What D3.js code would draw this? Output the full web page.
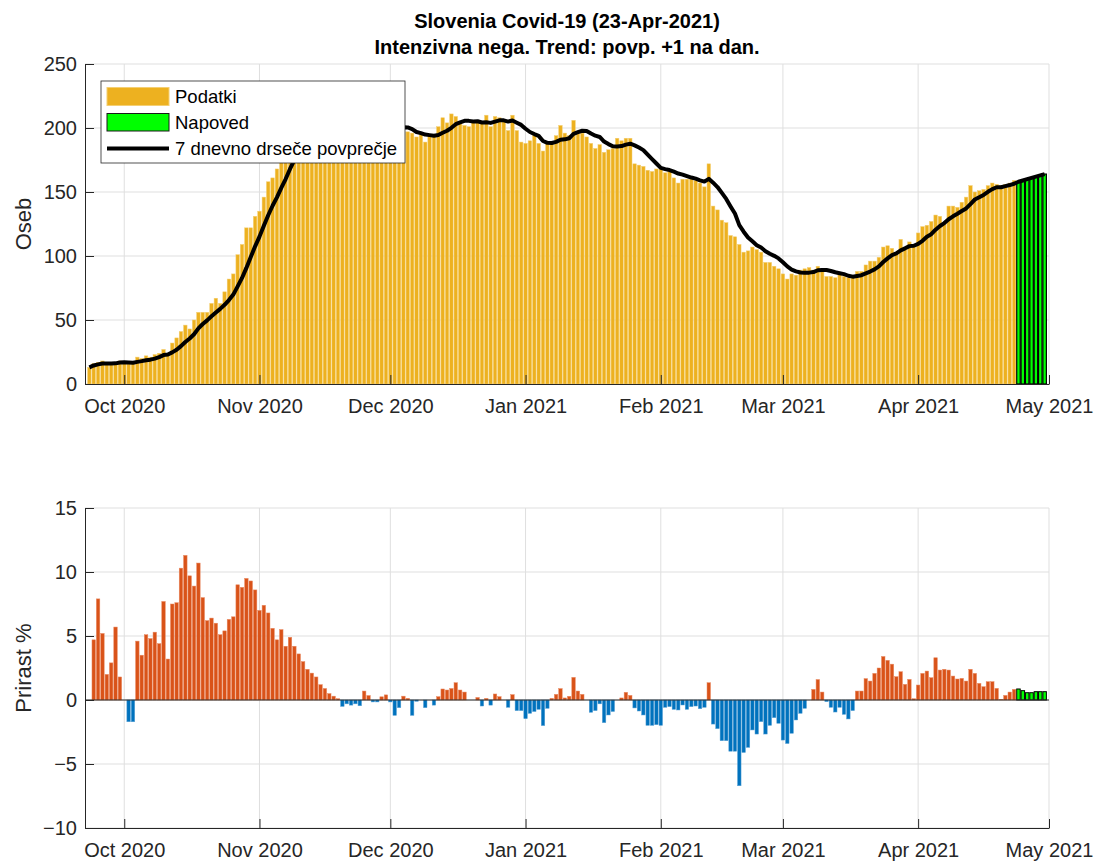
<!DOCTYPE html>
<html>
<head>
<meta charset="utf-8">
<script src="https://cdn.jsdelivr.net/npm/d3@7"></script>
<style>
  body { margin: 0; background: #fff; }
  svg { display: block; font-family: "Liberation Sans", Arial, Helvetica, sans-serif; }
</style>
</head>
<body>
<svg id="chart" width="1096" height="861"></svg>
<script>
// ICU patients per day, 23 Sep 2020 .. 23 Apr 2021
const firstDay = new Date(2020, 8, 23);
const icuPatients = [
  13, 16, 17, 18, 16, 16, 17, 18,                                                       // Sep
  17, 16, 16, 21, 20, 22, 21, 23, 24, 27, 24, 32, 36, 41, 46, 43, 50, 56, 56, 56,
  63, 67, 63, 72, 82, 86, 101, 109, 122, 122, 131,                                      // Oct
  135, 146, 158, 161, 168, 174, 179, 190, 195, 202, 199, 199, 202, 204, 207, 207,
  209, 204, 200, 195, 200, 201, 203, 203, 214, 205, 193, 198, 205, 209,                 // Nov
  201, 197, 197, 197, 197, 196, 193, 195, 189, 194, 194, 201, 208, 204, 211, 209,
  204, 202, 201, 205, 205, 204, 210, 201, 209, 208, 205, 198, 210, 198, 189,            // Dec
  188, 190, 194, 188, 182, 188, 188, 194, 202, 196, 194, 206, 197, 196, 193, 188,
  184, 187, 181, 183, 184, 192, 190, 192, 192, 172, 171, 170, 167, 166, 168,            // Jan
  168, 165, 166, 161, 157, 160, 160, 160, 159, 157, 154, 172, 139, 136, 128, 126,
  116, 115, 109, 103, 104, 107, 105, 103, 95, 95, 92, 90,                               // Feb
  86, 82, 86, 85, 89, 90, 91, 89, 92, 88, 84, 84, 83, 86, 84, 83,
  83, 88, 88, 93, 96, 96, 99, 107, 108, 106, 102, 113, 107, 111, 109,                   // Mar
  118, 123, 124, 127, 132, 131, 125, 139, 139, 138, 142, 146, 155, 150, 151, 152,
  155, 157, 156, 155, 156, 157, 159                                                     // Apr
];
// forecast, 24 Apr .. 30 Apr
const icuForecast = [158, 159, 160, 161, 162, 163, 164];

// daily growth of the 7-day average in %, 24 Sep 2020 .. 23 Apr 2021
const growthPct = [
  4.7, 7.9, 5.2, 2.0, 2.9, 5.7, 1.8,                                                    // Sep
  0, -1.7, -1.7, 4.6, 3.5, 5.1, 4.8, 5.3, 4.4, 7.7, 3.2, 7.5, 7.6, 10.3, 11.3, 9.7,
  8.9, 10.7, 8.0, 6.2, 6.4, 6.0, 5.1, 5.4, 6.3, 6.5, 9.0, 8.8, 9.5, 9.3, 8.6,           // Oct
  7.0, 7.4, 6.8, 5.6, 4.7, 5.5, 4.2, 4.9, 4.2, 3.6, 3.0, 2.4, 2.1, 1.8, 1.2, 0.9,
  0.5, 0.3, 0.1, -0.5, -0.3, -0.4, -0.3, -0.45, 0.7, 0.35, -0.15, -0.15, 0.25, 0.4,     // Nov
  -0.15, -1.2, -0.6, 0.3, 0.13, -1.2, -0.1, 0, -0.6, 0, -0.4, 0.26, 0.86, 0.78, 0.9,
  1.35, 0.78, 0.62, 0, 0, 0.2, -0.47, 0.13, -0.4, 0.47, 0.26, 0, -0.57, 0.42, -0.83,
  -0.83,                                                                                // Dec
  -1.46, -1.04, -0.9, -0.73, -2.0, -0.65, 0.13, 0.44, 0.89, 0.16, 0.29, 1.77, 0.7,
  0.44, 0, -0.96, -0.83, -0.3, -1.77, -1.17, -0.9, 0, 0.16, 0.6, 0.36, -0.62, -0.86,
  -1.17, -1.98, -1.98, -1.93,                                                           // Jan
  -1.98, -0.57, -0.52, -0.73, -0.78, -0.39, -0.73, -0.52, -0.47, -0.68, -0.57, 1.35,
  -1.88, -2.24, -3.18, -3.18, -4.0, -4.0, -6.7, -4.1, -3.7, -2.34, -2.66, -1.69, -2.66,
  -1.98, -1.38, -1.82,                                                                  // Feb
  -3.13, -3.4, -2.6, -1.56, -1.04, -0.65, 0, 0.83, 1.6, 0.62, -0.13, -0.57, -0.94,
  -0.57, -1.12, -1.48, -0.83, 0.7, 0.7, 1.67, 1.48, 2.08, 2.5, 3.4, 3.1, 2.8, 1.82,
  2.21, 1.22, 1.61, 0.1,                                                                // Mar
  1.17, 2.08, 2.26, 1.74, 3.3, 2.34, 2.4, 2.34, 1.87, 1.64, 1.69, 1.48, 2.4, 2.08,
  1.3, 1.04, 1.43, 1.43, 0.91, 0.05, 0.36, 0.62, 0.83                                  // Apr
];
const growthForecast = [0.86, 0.73, 0.57, 0.57, 0.65, 0.65, 0.65];

const topTicks = [0, 50, 100, 150, 200, 250];
const bottomTicks = [-10, -5, 0, 5, 10, 15];
const titleLines = ['Slovenia Covid-19 (23-Apr-2021)', 'Intenzivna nega. Trend: povp. +1 na dan.'];
const legendLabels = ['Podatki', 'Napoved', '7 dnevno drseče povprečje'];

const colors = {
  data: '#EDB120', dataEdge: '#F4CF73',
  forecast: '#00FF00',
  up: '#D95319', upEdge: '#E98A62',
  down: '#0072BD', downEdge: '#5AA2D6',
  axis: '#262626', grid: '#DFDFDF'
};

const svg = d3.select('#chart');

const dayOf = (i) => d3.timeDay.offset(firstDay, i);
const actual = icuPatients.map((v, i) => ({ date: dayOf(i), value: v }));
const forecast = icuForecast.map((v, i) => ({ date: dayOf(icuPatients.length + i), value: v }));
const growth = growthPct.map((v, i) => ({ date: dayOf(i + 1), value: v }));
const growthFc = growthForecast.map((v, i) => ({ date: dayOf(icuPatients.length + i), value: v }));

// trailing 7 day average, then the forecast trend
const movingAvg = actual.map((d, i) => ({
  date: d.date,
  value: d3.mean(icuPatients.slice(Math.max(0, i - 6), i + 1))
})).concat(forecast);

const x = d3.scaleTime()
  .domain([new Date(2020, 8, 22), new Date(2021, 4, 1)])
  .range([85, 1049]);
const step = x(dayOf(1)) - x(dayOf(0));
const barW = step * 0.8;
const months = d3.timeMonth.range(new Date(2020, 9, 1), new Date(2021, 4, 2));

function drawPanel(y, ticks, top, bottom, label, labelY) {
  const g = svg.append('g');

  // grid
  g.append('g').selectAll('line').data(ticks).join('line')
    .attr('x1', 85).attr('x2', 1049)
    .attr('y1', d => y(d)).attr('y2', d => y(d))
    .attr('stroke', colors.grid).attr('stroke-width', 1);
  g.append('g').selectAll('line').data(months).join('line')
    .attr('x1', d => x(d)).attr('x2', d => x(d))
    .attr('y1', top).attr('y2', bottom)
    .attr('stroke', colors.grid).attr('stroke-width', 1);

  const bars = g.append('g');

  const axes = () => {
    const yAxis = g.append('g')
      .attr('transform', 'translate(85,0)')
      .call(d3.axisLeft(y).tickValues(ticks).tickSize(-9).tickSizeOuter(0).tickPadding(8));
    const xAxis = g.append('g')
      .attr('transform', `translate(0,${bottom})`)
      .call(d3.axisBottom(x).tickValues(months).tickFormat(d3.timeFormat('%b %Y'))
        .tickSize(-9).tickSizeOuter(0).tickPadding(15));
    [yAxis, xAxis].forEach(a => {
      a.select('.domain').attr('stroke', colors.axis);
      a.selectAll('.tick line').attr('stroke', colors.axis);
      a.selectAll('.tick text').attr('fill', colors.axis)
        .style('font-size', '20px').style('font-family', '"Liberation Sans", Arial, sans-serif');
    });
    g.append('text')
      .attr('transform', `translate(31,${labelY}) rotate(-90)`)
      .attr('text-anchor', 'middle')
      .attr('fill', colors.axis)
      .style('font-size', '22px')
      .text(label);
  };

  return { g, bars, axes };
}

// ---------- top panel ----------
const yTop = d3.scaleLinear().domain([0, 250]).range([384, 64]);
const topPanel = drawPanel(yTop, topTicks, 64, 384, 'Oseb', 224);

topPanel.bars.selectAll('rect.data').data(actual).join('rect')
  .attr('class', 'data')
  .attr('x', d => x(d.date) - barW / 2)
  .attr('width', barW)
  .attr('y', d => yTop(d.value))
  .attr('height', d => yTop(0) - yTop(d.value))
  .attr('fill', colors.data)
  .attr('stroke', colors.dataEdge).attr('stroke-width', 0.5);

topPanel.bars.selectAll('rect.fc').data(forecast).join('rect')
  .attr('class', 'fc')
  .attr('x', d => x(d.date) - barW / 2)
  .attr('width', barW)
  .attr('y', d => yTop(d.value))
  .attr('height', d => yTop(0) - yTop(d.value))
  .attr('fill', colors.forecast)
  .attr('stroke', '#000').attr('stroke-width', 1.2);

topPanel.bars.append('path')
  .datum(movingAvg)
  .attr('fill', 'none')
  .attr('stroke', '#000')
  .attr('stroke-width', 4)
  .attr('stroke-linejoin', 'round')
  .attr('d', d3.line().x(d => x(d.date)).y(d => yTop(d.value)).curve(d3.curveLinear));

topPanel.axes();

// legend
const legend = svg.append('g');
legend.append('rect')
  .attr('x', 101).attr('y', 81).attr('width', 304).attr('height', 82)
  .attr('fill', '#fff').attr('stroke', colors.axis).attr('stroke-width', 0.8);
legend.append('rect')
  .attr('x', 107).attr('y', 87.5).attr('width', 62).attr('height', 18)
  .attr('fill', colors.data).attr('stroke', colors.dataEdge).attr('stroke-width', 1);
legend.append('rect')
  .attr('x', 107).attr('y', 113.5).attr('width', 62).attr('height', 17.5)
  .attr('fill', colors.forecast).attr('stroke', '#1a1a1a').attr('stroke-width', 1);
legend.append('line')
  .attr('x1', 107).attr('x2', 169).attr('y1', 148.5).attr('y2', 148.5)
  .attr('stroke', '#000').attr('stroke-width', 4);
legend.selectAll('text').data(legendLabels).join('text')
  .attr('x', 175)
  .attr('y', (d, i) => [97, 122.5, 148.5][i])
  .attr('dy', '0.35em')
  .attr('fill', '#000')
  .style('font-size', '18.5px')
  .text(d => d);

// ---------- bottom panel ----------
const yBot = d3.scaleLinear().domain([-10, 15]).range([828, 508]);
const botPanel = drawPanel(yBot, bottomTicks, 508, 828, 'Prirast %', 668);

botPanel.bars.selectAll('rect.gr').data(growth.filter(d => d.value !== 0)).join('rect')
  .attr('class', 'gr')
  .attr('x', d => x(d.date) - barW / 2)
  .attr('width', barW)
  .attr('y', d => yBot(Math.max(0, d.value)))
  .attr('height', d => Math.abs(yBot(d.value) - yBot(0)))
  .attr('fill', d => d.value > 0 ? colors.up : colors.down)
  .attr('stroke', d => d.value > 0 ? colors.upEdge : colors.downEdge)
  .attr('stroke-width', 0.5);

botPanel.bars.selectAll('rect.grfc').data(growthFc).join('rect')
  .attr('class', 'grfc')
  .attr('x', d => x(d.date) - barW / 2)
  .attr('width', barW)
  .attr('y', d => yBot(d.value))
  .attr('height', d => yBot(0) - yBot(d.value))
  .attr('fill', colors.forecast)
  .attr('stroke', '#000').attr('stroke-width', 1);

botPanel.bars.append('line')
  .attr('x1', 85).attr('x2', 1049)
  .attr('y1', yBot(0)).attr('y2', yBot(0))
  .attr('stroke', colors.axis).attr('stroke-width', 1);

botPanel.axes();

// title
svg.append('g').selectAll('text').data(titleLines).join('text')
  .attr('x', 567)
  .attr('y', (d, i) => [28, 54][i])
  .attr('text-anchor', 'middle')
  .attr('fill', '#000')
  .style('font-size', '20px')
  .style('font-weight', 'bold')
  .text(d => d);
</script>
</body>
</html>
